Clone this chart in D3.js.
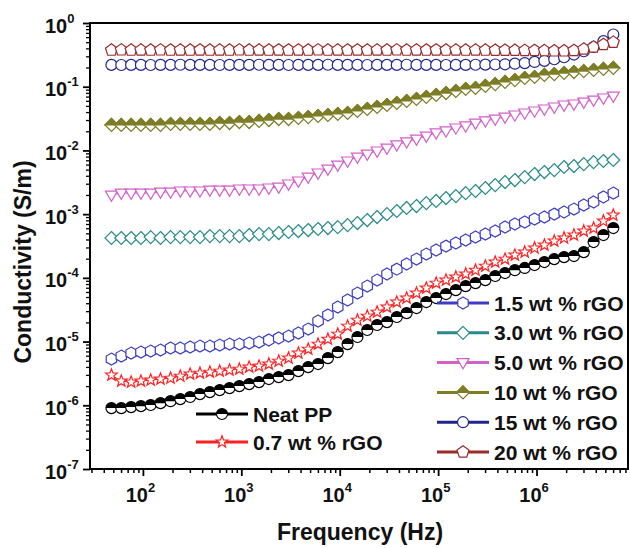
<!DOCTYPE html>
<html>
<head>
<meta charset="utf-8">
<script src="https://cdn.jsdelivr.net/npm/d3@7"></script>
<style>
  body { margin: 0; background: #fff; }
  text { font-family: Arial, "Liberation Sans", sans-serif; font-weight: bold; fill: #111; }
</style>
</head>
<body>
<div id="chart"></div>
<script>
// frequencies (Hz), shared by all samples
var freq = [47.9, 60.3, 75.9, 95.5, 120, 151, 191, 240, 302, 380,
  479, 603, 759, 955, 1202, 1514, 1905, 2399, 3020, 3802,
  4786, 6026, 7586, 9550, 12023, 15136, 19055, 23988, 30200, 38019,
  47863, 60256, 75858, 95499, 1.202e5, 1.514e5, 1.905e5, 2.399e5, 3.02e5, 3.802e5,
  4.786e5, 6.026e5, 7.586e5, 9.55e5, 1.202e6, 1.514e6, 1.905e6, 2.399e6, 3.02e6, 3.802e6,
  4.786e6, 6.026e6];

// conductivity (S/m)
var neatPP = [9.04e-7, 9.04e-7, 9.37e-7, 9.7e-7, 1.01e-6, 1.08e-6, 1.16e-6, 1.25e-6, 1.35e-6, 1.5e-6,
  1.61e-6, 1.73e-6, 1.86e-6, 2.0e-6, 2.15e-6, 2.31e-6, 2.58e-6, 2.77e-6, 2.98e-6, 3.44e-6,
  3.98e-6, 4.44e-6, 5.51e-6, 6.84e-6, 9.13e-6, 1.18e-5, 1.52e-5, 1.82e-5, 2.02e-5, 2.43e-5,
  2.8e-5, 3.36e-5, 4.17e-5, 4.82e-5, 5.57e-5, 6.43e-5, 7.43e-5, 8.28e-5, 9.23e-5, 1.07e-4,
  1.19e-4, 1.32e-4, 1.43e-4, 1.59e-4, 1.77e-4, 1.97e-4, 2.12e-4, 2.2e-4, 2.54e-4, 3.65e-4,
  4.7e-4, 6.05e-4];
var rgo07 = [2.98e-6, 2.4e-6, 2.31e-6, 2.4e-6, 2.49e-6, 2.58e-6, 2.67e-6, 2.87e-6, 3.09e-6, 3.2e-6,
  3.32e-6, 3.44e-6, 3.57e-6, 3.7e-6, 3.98e-6, 4.12e-6, 4.44e-6, 4.94e-6, 5.51e-6, 6.6e-6,
  7.62e-6, 9.13e-6, 1.09e-5, 1.31e-5, 1.75e-5, 2.17e-5, 2.51e-5, 2.9e-5, 3.48e-5, 4.17e-5,
  4.82e-5, 5.77e-5, 6.92e-5, 8.28e-5, 9.23e-5, 1.03e-4, 1.15e-4, 1.32e-4, 1.53e-4, 1.77e-4,
  1.97e-4, 2.28e-4, 2.54e-4, 2.94e-4, 3.27e-4, 3.78e-4, 4.22e-4, 4.7e-4, 5.43e-4, 6.05e-4,
  7.8e-4, 9.68e-4];
var rgo15 = [5.31e-6, 5.92e-6, 6.6e-6, 6.84e-6, 7.09e-6, 7.35e-6, 7.91e-6, 7.91e-6, 8.2e-6, 8.5e-6,
  8.5e-6, 8.81e-6, 9.13e-6, 9.13e-6, 9.47e-6, 9.82e-6, 1.06e-5, 1.14e-5, 1.22e-5, 1.36e-5,
  1.57e-5, 2.1e-5, 2.61e-5, 3.48e-5, 4.49e-5, 5.77e-5, 7.43e-5, 9.23e-5, 1.15e-4, 1.37e-4,
  1.65e-4, 1.97e-4, 2.36e-4, 2.73e-4, 3.15e-4, 3.52e-4, 3.92e-4, 4.37e-4, 4.87e-4, 5.43e-4,
  6.27e-4, 7.0e-4, 7.52e-4, 8.38e-4, 9.0e-4, 1.0e-3, 1.08e-3, 1.2e-3, 1.39e-3, 1.55e-3,
  1.86e-3, 2.14e-3];
var rgo30 = [4.22e-4, 4.22e-4, 4.22e-4, 4.22e-4, 4.37e-4, 4.22e-4, 4.37e-4, 4.37e-4, 4.37e-4, 4.37e-4,
  4.53e-4, 4.53e-4, 4.53e-4, 4.53e-4, 4.7e-4, 4.87e-4, 4.87e-4, 5.05e-4, 5.24e-4, 5.43e-4,
  5.63e-4, 5.84e-4, 6.05e-4, 6.27e-4, 6.74e-4, 7.25e-4, 8.08e-4, 9.01e-4, 1.0e-3, 1.12e-3,
  1.25e-3, 1.34e-3, 1.49e-3, 1.61e-3, 1.79e-3, 1.92e-3, 2.14e-3, 2.31e-3, 2.57e-3, 2.86e-3,
  3.19e-3, 3.43e-3, 3.82e-3, 4.26e-3, 4.58e-3, 4.92e-3, 5.49e-3, 5.69e-3, 6.11e-3, 6.57e-3,
  6.82e-3, 7.07e-3];
var rgo50 = [1.99e-3, 2.14e-3, 2.14e-3, 2.14e-3, 2.14e-3, 2.22e-3, 2.22e-3, 2.31e-3, 2.31e-3, 2.31e-3,
  2.39e-3, 2.39e-3, 2.39e-3, 2.48e-3, 2.48e-3, 2.48e-3, 2.57e-3, 2.66e-3, 2.97e-3, 3.31e-3,
  3.82e-3, 4.42e-3, 5.1e-3, 5.9e-3, 6.82e-3, 7.87e-3, 8.78e-3, 9.79e-3, 1.09e-2, 1.22e-2,
  1.36e-2, 1.51e-2, 1.68e-2, 1.88e-2, 2.02e-2, 2.25e-2, 2.42e-2, 2.69e-2, 2.9e-2, 3.11e-2,
  3.34e-2, 3.6e-2, 3.87e-2, 4.16e-2, 4.47e-2, 4.8e-2, 5.16e-2, 5.35e-2, 5.75e-2, 6.18e-2,
  6.65e-2, 7.14e-2];
var rgo10 = [2.51e-2, 2.51e-2, 2.51e-2, 2.51e-2, 2.51e-2, 2.51e-2, 2.6e-2, 2.6e-2, 2.6e-2, 2.6e-2,
  2.6e-2, 2.69e-2, 2.69e-2, 2.79e-2, 2.79e-2, 2.9e-2, 3.0e-2, 3.11e-2, 3.11e-2, 3.23e-2,
  3.34e-2, 3.47e-2, 3.6e-2, 3.73e-2, 3.87e-2, 4.16e-2, 4.47e-2, 4.8e-2, 5.16e-2, 5.55e-2,
  5.97e-2, 6.41e-2, 6.89e-2, 7.41e-2, 7.96e-2, 8.56e-2, 9.2e-2, 9.54e-2, 0.103, 0.11,
  0.119, 0.127, 0.137, 0.142, 0.153, 0.158, 0.164, 0.17, 0.176, 0.183,
  0.19, 0.197];
var rgo15wt = [0.22, 0.219, 0.22, 0.22, 0.219, 0.22, 0.22, 0.221, 0.22, 0.22,
  0.22, 0.219, 0.22, 0.22, 0.22, 0.221, 0.22, 0.22, 0.219, 0.22,
  0.22, 0.22, 0.221, 0.22, 0.22, 0.22, 0.219, 0.22, 0.22, 0.22,
  0.221, 0.22, 0.22, 0.22, 0.219, 0.22, 0.22, 0.221, 0.222, 0.223,
  0.225, 0.23, 0.235, 0.245, 0.255, 0.27, 0.29, 0.32, 0.36, 0.42,
  0.52, 0.66];
var rgo20 = [0.375, 0.378, 0.375, 0.376, 0.375, 0.378, 0.375, 0.376, 0.375, 0.377,
  0.375, 0.376, 0.375, 0.378, 0.375, 0.376, 0.375, 0.377, 0.375, 0.376,
  0.375, 0.378, 0.375, 0.376, 0.375, 0.377, 0.375, 0.376, 0.375, 0.378,
  0.375, 0.376, 0.375, 0.377, 0.375, 0.376, 0.375, 0.376, 0.375, 0.374,
  0.373, 0.372, 0.371, 0.37, 0.368, 0.365, 0.365, 0.37, 0.39, 0.42,
  0.46, 0.5];

var seriesNames = ["Neat PP", "0.7 wt % rGO", "1.5 wt % rGO", "3.0 wt % rGO",
  "5.0 wt % rGO", "10 wt % rGO", "15 wt % rGO", "20 wt % rGO"];
var seriesValues = [neatPP, rgo07, rgo15, rgo30, rgo50, rgo10, rgo15wt, rgo20];

// axis ticks
var xTickExp = [2, 3, 4, 5, 6];
var yTickExp = [0, -1, -2, -3, -4, -5, -6, -7];

// styles
var colors = ["#000000", "#ff2020", "#3d3dc4", "#2a8a8a", "#d35fc9", "#7d7d26", "#23238c", "#992b2b"];
var shapes = ["halfcircle", "star", "hexagon", "diamond", "triangleDown", "halfdiamond", "circle", "pentagon"];

var width = 630, height = 548;
var plot = { left: 90, right: 628, top: 23, bottom: 469 };

var svg = d3
  .select("#chart")
  .append("svg")
  .attr("width", width)
  .attr("height", height);

var x = d3.scaleLog().domain([29, 8.5e6]).range([plot.left, plot.right]);
var y = d3.scaleLog().domain([1e-7, 1]).range([plot.bottom, plot.top]);

// minor tick values inside the domains
function minors(scale) {
  var d = scale.domain(), out = [];
  for (var e = Math.floor(Math.log10(d[0])); e <= Math.ceil(Math.log10(d[1])); e++) {
    for (var m = 2; m <= 9; m++) {
      var v = m * Math.pow(10, e);
      if (v >= d[0] && v <= d[1]) out.push(v);
    }
  }
  return out;
}

// x axis
svg.append("g")
  .attr("transform", "translate(0," + plot.bottom + ")")
  .call(d3.axisBottom(x).tickValues(minors(x)).tickSize(4).tickFormat(""))
  .call(function (g) { g.select(".domain").remove(); })
  .selectAll("line").attr("stroke", "#000").attr("stroke-width", 1.5);

var xAxis = svg.append("g")
  .attr("transform", "translate(0," + plot.bottom + ")")
  .call(d3.axisBottom(x).tickValues(xTickExp.map(function (e) { return Math.pow(10, e); }))
    .tickSize(7).tickFormat(""));
xAxis.select(".domain").remove();
xAxis.selectAll("line").attr("stroke", "#000").attr("stroke-width", 1.8);
xAxis.selectAll(".tick").each(function (d, i) {
  var t = d3.select(this).append("text")
    .attr("x", -3).attr("y", 33)
    .attr("text-anchor", "middle")
    .attr("font-size", 20);
  t.append("tspan").text("10");
  t.append("tspan").attr("dy", -10).attr("font-size", 13).text(xTickExp[i]);
});

// y axis
svg.append("g")
  .attr("transform", "translate(" + plot.left + ",0)")
  .call(d3.axisLeft(y).tickValues(minors(y)).tickSize(4).tickFormat(""))
  .call(function (g) { g.select(".domain").remove(); })
  .selectAll("line").attr("stroke", "#000").attr("stroke-width", 1.3);

var yAxis = svg.append("g")
  .attr("transform", "translate(" + plot.left + ",0)")
  .call(d3.axisLeft(y).tickValues(yTickExp.map(function (e) { return Math.pow(10, e); }))
    .tickSize(7).tickFormat(""));
yAxis.select(".domain").remove();
yAxis.selectAll("line").attr("stroke", "#000").attr("stroke-width", 1.8);
yAxis.selectAll(".tick").each(function (d, i) {
  var t = d3.select(this).append("text")
    .attr("x", -45).attr("y", 9)
    .attr("text-anchor", "start")
    .attr("font-size", 20);
  t.append("tspan").text("10");
  t.append("tspan").attr("dy", -10).attr("font-size", 13).text(yTickExp[i] === 0 ? "0" : yTickExp[i]);
});

// frame
svg.append("rect")
  .attr("x", plot.left).attr("y", plot.top)
  .attr("width", plot.right - plot.left).attr("height", plot.bottom - plot.top)
  .attr("fill", "none").attr("stroke", "#000").attr("stroke-width", 2);

// axis titles
svg.append("text")
  .attr("x", 360).attr("y", 540)
  .attr("text-anchor", "middle")
  .attr("font-size", 23)
  .text("Frequency (Hz)");
svg.append("text")
  .attr("transform", "translate(31,262) rotate(-90)")
  .attr("text-anchor", "middle")
  .attr("font-size", 23)
  .text("Conductivity (S/m)");

// marker shapes
function poly(pts) {
  return "M" + pts.map(function (p) { return p[0].toFixed(2) + "," + p[1].toFixed(2); }).join("L") + "Z";
}
function regular(n, r, start) {
  var pts = [];
  for (var k = 0; k < n; k++) {
    var a = (start + k * 360 / n) * Math.PI / 180;
    pts.push([r * Math.cos(a), r * Math.sin(a)]);
  }
  return pts;
}
function starPts(ro, ri) {
  var pts = [];
  for (var k = 0; k < 10; k++) {
    var a = (-90 + k * 36) * Math.PI / 180, r = k % 2 ? ri : ro;
    pts.push([r * Math.cos(a), r * Math.sin(a)]);
  }
  return pts;
}

function drawMarker(g, shape, color) {
  var r = 5.5, sw = 1.2;
  if (shape === "halfcircle" || shape === "circle") {
    g.append("circle").attr("r", r).attr("fill", "#fff").attr("stroke", color).attr("stroke-width", sw);
    if (shape === "halfcircle") {
      g.append("path").attr("d", "M" + (-r) + ",0A" + r + "," + r + " 0 0 1 " + r + ",0Z").attr("fill", color);
    }
  } else if (shape === "diamond" || shape === "halfdiamond") {
    var dr = 6.5;
    g.append("path").attr("d", poly([[0, -dr], [dr, 0], [0, dr], [-dr, 0]]))
      .attr("fill", "#fff").attr("stroke", color).attr("stroke-width", sw);
    if (shape === "halfdiamond") {
      g.append("path").attr("d", poly([[-dr, 0], [0, -dr], [dr, 0]])).attr("fill", color)
        .attr("stroke", color).attr("stroke-width", sw);
    }
  } else {
    var d;
    if (shape === "star") d = poly(starPts(6.2, 2.6));
    else if (shape === "hexagon") d = poly(regular(6, 6, -90));
    else if (shape === "pentagon") d = poly(regular(5, 6.3, -90));
    else d = poly([[-6, -4], [6, -4], [0, 6.2]]);
    g.append("path").attr("d", d).attr("fill", "#fff").attr("stroke", color).attr("stroke-width", sw);
  }
}

// series
var line = d3.line()
  .x(function (d) { return x(d[0]); })
  .y(function (d) { return y(d[1]); });

seriesValues.forEach(function (vals, s) {
  var pts = freq.map(function (f, i) { return [f, vals[i]]; });
  var g = svg.append("g");
  g.append("path")
    .attr("d", line(pts))
    .attr("fill", "none")
    .attr("stroke", colors[s])
    .attr("stroke-width", 1);
  g.selectAll("g.pt")
    .data(pts)
    .enter()
    .append("g")
    .attr("transform", function (d) { return "translate(" + x(d[0]) + "," + y(d[1]) + ")"; })
    .each(function () { drawMarker(d3.select(this), shapes[s], colors[s]); });
});

// legends
function legendItem(s, lx, ly) {
  var g = svg.append("g");
  g.append("line")
    .attr("x1", lx).attr("x2", lx + 52)
    .attr("y1", ly).attr("y2", ly)
    .attr("stroke", colors[s]).attr("stroke-width", 3);
  var m = g.append("g").attr("transform", "translate(" + (lx + 26) + "," + ly + ")");
  drawMarker(m, shapes[s], colors[s]);
  g.append("text")
    .attr("x", lx + 57).attr("y", ly + 7.5)
    .attr("font-size", 21)
    .text(seriesNames[s]);
}
legendItem(0, 196, 414);
legendItem(1, 196, 442);
for (var s = 2; s < 8; s++) legendItem(s, 437, 303 + (s - 2) * 29.8);
</script>
</body>
</html>
